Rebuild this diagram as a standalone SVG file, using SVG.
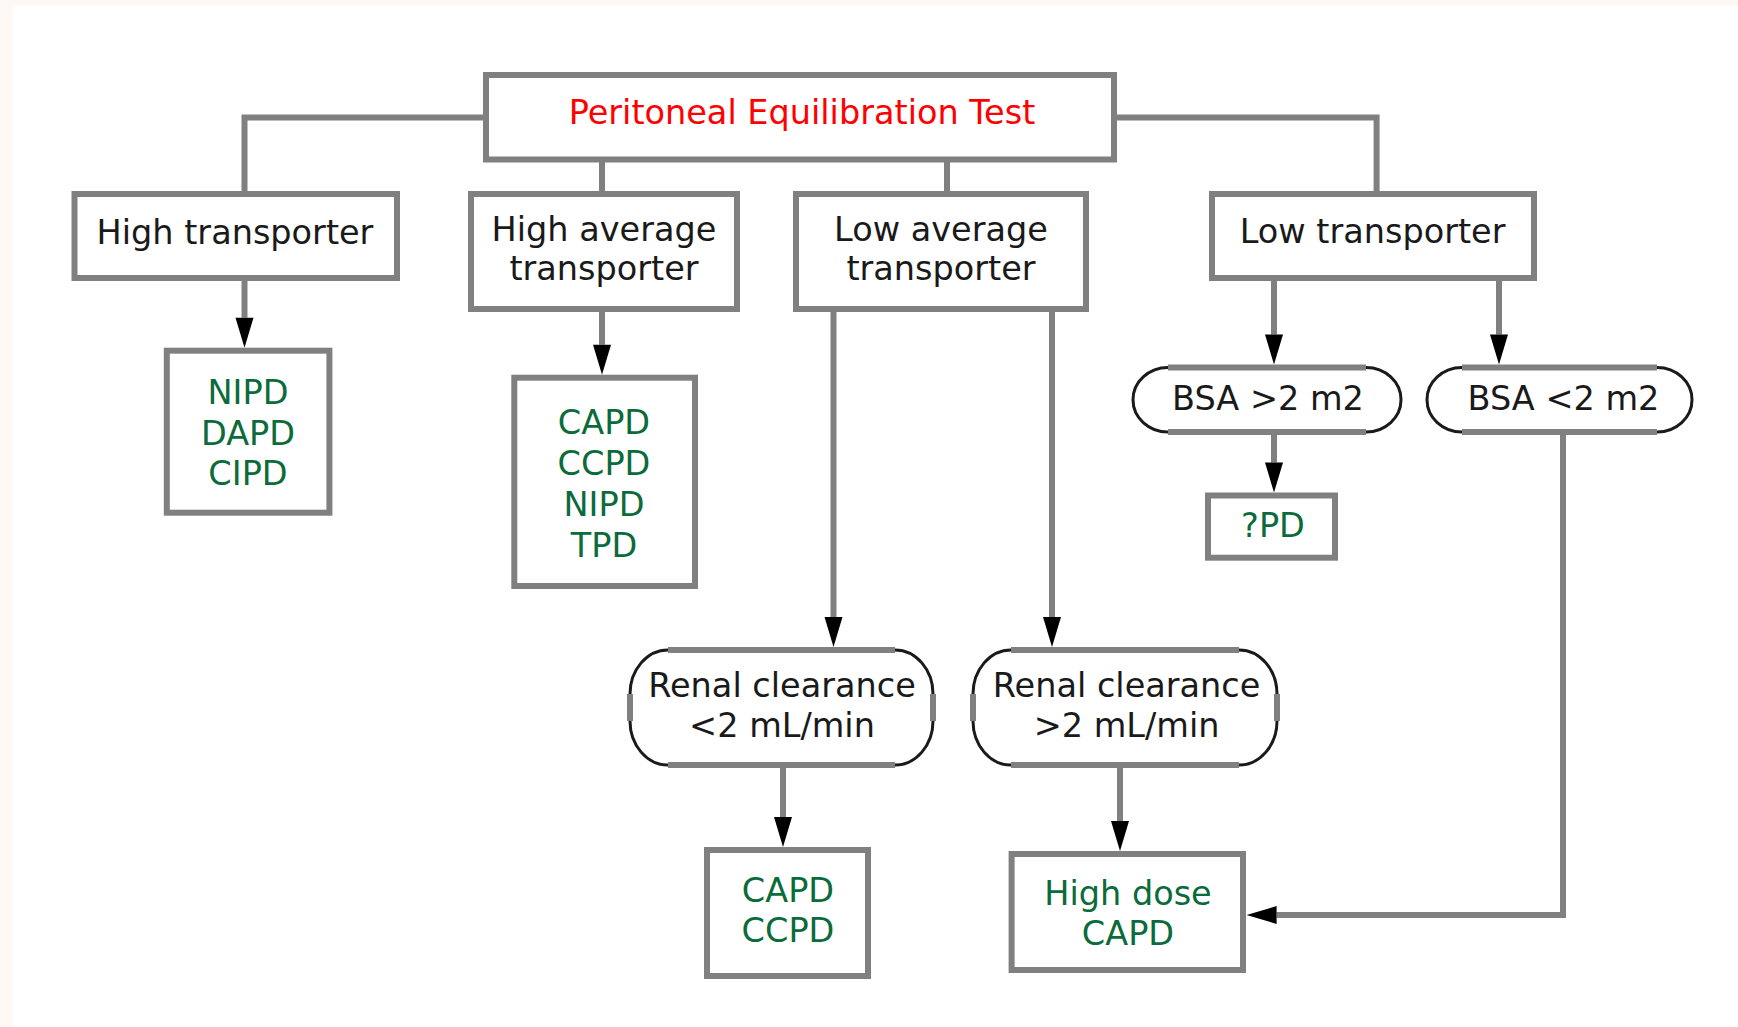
<svg xmlns="http://www.w3.org/2000/svg" width="1738" height="1027" viewBox="0 0 1738 1027">
<style>
.box{fill:#fff;stroke:#808080;stroke-width:6}
.edge{fill:none;stroke:#808080;stroke-width:6}
.arc{fill:none;stroke:#1a1a1a;stroke-width:3}
.conn{fill:none;stroke:#808080;stroke-width:6}
.arr{marker-end:url(#ah)}
text{font-family:"DejaVu Sans","Verdana",sans-serif;font-size:33.5px;text-anchor:middle}
.blk{fill:#1a1a1a}
.grn{fill:#0b6b3a}
.red{fill:#f00}
</style>
<defs>
<marker id="ah" markerUnits="userSpaceOnUse" markerWidth="30" markerHeight="18" refX="0" refY="9" orient="auto" overflow="visible">
<path d="M0,0 L30,9 L0,18 Z" fill="#000"/>
</marker>
</defs>
<rect x="0" y="0" width="1738" height="1027" fill="#fdf8f4"/>
<rect x="12.5" y="5.7" width="1726" height="1022" fill="#fff"/>

<g id="connectors">
<path class="conn" d="M486,117.5 H244.5 V194"/>
<path class="conn" d="M1114,117.5 H1376.6 V194"/>
<path class="conn" d="M602,159.5 V194"/>
<path class="conn" d="M947,159.5 V194"/>
<path class="conn arr" d="M244.5,281 V317.7"/>
<path class="conn arr" d="M602,312 V344.7"/>
<path class="conn arr" d="M833.5,312 V617"/>
<path class="conn arr" d="M1052,312 V617"/>
<path class="conn arr" d="M1274,281 V334.5"/>
<path class="conn arr" d="M1499,281 V334.5"/>
<path class="conn arr" d="M1274,435 V462.5"/>
<path class="conn arr" d="M1563,435 V915 H1276.6"/>
<path class="conn arr" d="M783,768 V817"/>
<path class="conn arr" d="M1120,768 V821"/>
</g>

<g id="pet">
<rect class="box" x="486" y="75" width="628" height="84.5"/>
<text class="red" x="802" y="124.3">Peritoneal Equilibration Test</text>
</g>

<g id="high">
<rect class="box" x="74.5" y="194" width="322.5" height="84"/>
<text class="blk" x="235" y="244.3">High transporter</text>
</g>

<g id="highavg">
<rect class="box" x="471" y="194" width="266" height="115"/>
<text class="blk" x="604" y="240.7">High average</text>
<text class="blk" x="604" y="280">transporter</text>
</g>

<g id="lowavg">
<rect class="box" x="796" y="194" width="290" height="115"/>
<text class="blk" x="941" y="240.7">Low average</text>
<text class="blk" x="941" y="280">transporter</text>
</g>

<g id="low">
<rect class="box" x="1212" y="194" width="322" height="84"/>
<text class="blk" x="1372.6" y="243">Low transporter</text>
</g>

<g id="res-high">
<rect class="box" x="166.8" y="350.7" width="162.6" height="162"/>
<text class="grn" x="248" y="404">NIPD</text>
<text class="grn" x="248" y="445">DAPD</text>
<text class="grn" x="248" y="485">CIPD</text>
</g>

<g id="res-highavg">
<rect class="box" x="514.3" y="377.7" width="180.7" height="208.3"/>
<text class="grn" x="604" y="434">CAPD</text>
<text class="grn" x="604" y="475">CCPD</text>
<text class="grn" x="604" y="516">NIPD</text>
<text class="grn" x="604" y="557.3">TPD</text>
</g>

<g id="bsa-gt">
<path class="edge" d="M1168,367.5 H1366 M1168,432 H1366"/>
<path class="arc" d="M1168,367.5 A35,32.25 0 0 0 1168,432 M1366,367.5 A35,32.25 0 0 1 1366,432"/>
<text class="blk" x="1268" y="410">BSA &gt;2 m2</text>
</g>

<g id="bsa-lt">
<path class="edge" d="M1462,367.5 H1657 M1462,432 H1657"/>
<path class="arc" d="M1462,367.5 A35,32.25 0 0 0 1462,432 M1657,367.5 A35,32.25 0 0 1 1657,432"/>
<text class="blk" x="1563.5" y="410">BSA &lt;2 m2</text>
</g>

<g id="qpd">
<rect class="box" x="1208" y="495.5" width="127" height="62.2"/>
<text class="grn" x="1273" y="536.7">?PD</text>
</g>

<g id="renal-lt">
<path class="edge" d="M668,650 H895 M668,765 H895 M630,694 V721 M933,694 V721"/>
<path class="arc" d="M668,650 A38,44 0 0 0 630,694 M630,721 A38,44 0 0 0 668,765 M895,765 A38,44 0 0 0 933,721 M933,694 A38,44 0 0 0 895,650"/>
<text class="blk" x="782" y="696.7">Renal clearance</text>
<text class="blk" x="782" y="737.3">&lt;2 mL/min</text>
</g>

<g id="renal-gt">
<path class="edge" d="M1011,650 H1239 M1011,765 H1239 M973,694 V721 M1277,694 V721"/>
<path class="arc" d="M1011,650 A38,44 0 0 0 973,694 M973,721 A38,44 0 0 0 1011,765 M1239,765 A38,44 0 0 0 1277,721 M1277,694 A38,44 0 0 0 1239,650"/>
<text class="blk" x="1126.6" y="696.7">Renal clearance</text>
<text class="blk" x="1126.6" y="737.3">&gt;2 mL/min</text>
</g>

<g id="res-renal-lt">
<rect class="box" x="707" y="850" width="161" height="126"/>
<text class="grn" x="788" y="901.7">CAPD</text>
<text class="grn" x="788" y="941.7">CCPD</text>
</g>

<g id="res-renal-gt">
<rect class="box" x="1011.6" y="854" width="231.4" height="116"/>
<text class="grn" x="1128" y="905">High dose</text>
<text class="grn" x="1128" y="945">CAPD</text>
</g>
</svg>
